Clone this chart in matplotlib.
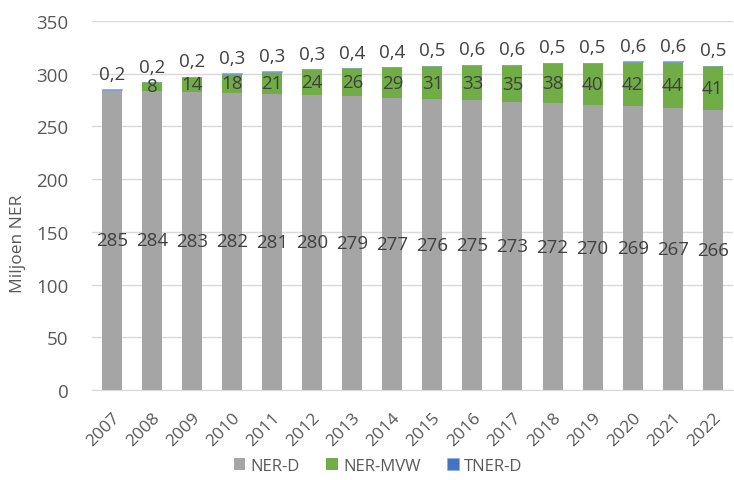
import matplotlib
matplotlib.use("Agg")
import matplotlib.pyplot as plt
import numpy as np

years = [str(y) for y in range(2007, 2023)]
ner_d = [285, 284, 283, 282, 281, 280, 279, 277, 276, 275, 273, 272, 270, 269, 267, 266]
ner_mvw = [0, 8, 14, 18, 21, 24, 26, 29, 31, 33, 35, 38, 40, 42, 44, 41]
tner_d = [0.2, 0.2, 0.2, 0.3, 0.3, 0.3, 0.4, 0.4, 0.5, 0.6, 0.6, 0.5, 0.5, 0.6, 0.6, 0.5]

plt.rcParams['font.family'] = ['Open Sans', 'DejaVu Sans']

fig = plt.figure(figsize=(7.34, 4.81), dpi=100)
ax = fig.add_axes([0.1253, 0.1871, 0.873, 0.7672])

x = np.arange(len(years))
w = 0.5
c_gray, c_green, c_blue = '#A5A5A5', '#70AD47', '#4472C4'
lab_col = '#404040'
tick_col = '#595959'

b1 = ax.bar(x, ner_d, w, color=c_gray, label='NER-D', zorder=2)
b2 = ax.bar(x, ner_mvw, w, bottom=ner_d, color=c_green, label='NER-MVW', zorder=2)
bottom3 = np.array(ner_d) + np.array(ner_mvw)
b3 = ax.bar(x, tner_d, w, bottom=bottom3, color=c_blue, label='TNER-D', zorder=2,
            edgecolor='#8FAADC', linewidth=0.4)

for i in range(len(years)):
    ax.text(x[i], ner_d[i] / 2, str(ner_d[i]), ha='center', va='center',
            fontsize=13.5, color=lab_col, zorder=3)
    if ner_mvw[i] > 0:
        ax.text(x[i], ner_d[i] + ner_mvw[i] / 2, str(ner_mvw[i]), ha='center',
                va='center', fontsize=13.5, color=lab_col, zorder=3)
    ax.text(x[i], bottom3[i] + tner_d[i] + 6, str(tner_d[i]).replace('.', ','),
            ha='center', va='bottom', fontsize=13.5, color=lab_col, zorder=3)

ax.set_xlim(-0.5, len(years) - 0.5)
ax.set_ylim(0, 350)
ax.set_yticks(range(0, 351, 50))
ax.set_xticks(x)
ax.set_xticklabels(years, rotation=45, ha='right', rotation_mode='anchor')
ax.tick_params(axis='both', length=0, labelsize=13.5, colors=tick_col)
ax.tick_params(axis='x', pad=14, labelsize=12.5)
ax.tick_params(axis='y', pad=17)
ax.grid(axis='y', color='#D9D9D9', linewidth=1, zorder=0)
for s in ['top', 'right', 'left']:
    ax.spines[s].set_visible(False)
ax.spines['bottom'].set_color('#D9D9D9')
fig.text(18 / 734, 1 - 244 / 481, 'Miljoen NER', rotation=90, ha='center', va='center',
         fontsize=12.5, color=tick_col)

fig.legend(handles=[b1, b2, b3], loc='center', bbox_to_anchor=(0.515, 0.03), ncol=3,
           frameon=False, fontsize=12, labelcolor=tick_col, handlelength=0.7,
           handleheight=0.7, handletextpad=0.3, columnspacing=1.6)

fig.savefig('out.png', dpi=100)
